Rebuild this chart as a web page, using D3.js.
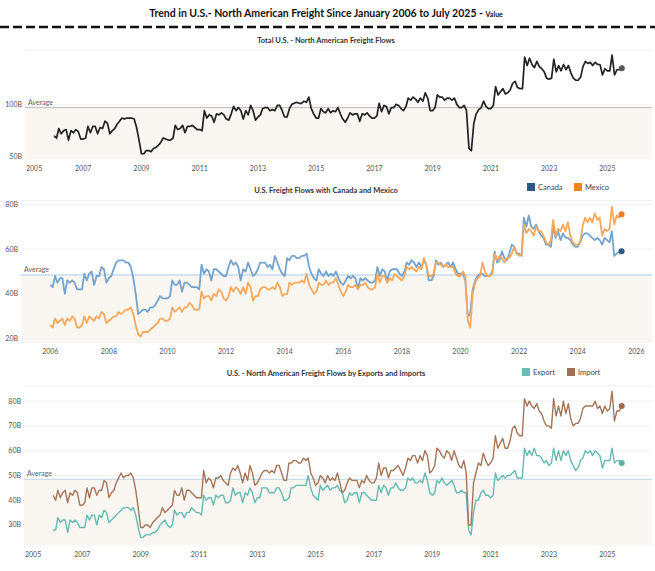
<!DOCTYPE html>
<html>
<head>
<meta charset="utf-8">
<script src="https://cdn.jsdelivr.net/npm/d3@7"></script>
<style>
  body { margin: 0; background: #fff; }
  svg { font-family: Lato, "Open Sans", sans-serif; }
</style>
</head>
<body>
<svg width="655" height="571"></svg>
<script>
// monthly values in billions of USD, Jan 2006 .. Jul 2025 (one row per year)
const canada = [
  44,43,48,45,47,47,40,46,45,46,45,42,
  42,42,49,46,49,50,44,48,48,52,51,45,
  47,48,51,54,55,55,55,54,54,52,47,40,
  31,32,33,33,32,34,34,35,37,39,38,38,
  38,39,46,44,44,46,41,45,45,44,43,43,
  43,42,53,49,51,50,46,51,51,50,49,48,
  48,52,55,53,54,52,46,51,50,54,51,48,
  49,51,54,54,54,52,53,51,57,54,51,49,
  48,56,55,57,57,56,56,57,57,58,52,49,
  47,46,51,49,48,50,48,49,48,50,47,45,
  44,46,48,47,48,47,42,47,46,47,46,45,
  45,46,52,48,51,50,46,50,51,51,51,49,
  48,50,54,53,55,54,52,54,52,55,53,46,
  46,48,55,53,54,52,53,54,52,54,51,49,
  49,49,46,30,31,42,46,48,49,49,48,48,
  48,50,59,54,55,59,56,55,58,62,61,58,
  58,57,74,70,75,70,69,71,68,66,65,62,
  62,61,70,65,68,64,67,65,65,64,62,61,
  61,63,66,67,67,66,65,64,65,64,62,65,
  64,63,68,57,58,59,59
];
const mexico = [
  26,25,29,27,28,29,26,29,28,30,29,25,
  25,26,30,27,30,29,28,30,29,32,31,27,
  28,29,30,30,32,31,32,33,33,34,31,26,
  22,21,23,23,23,24,25,26,27,29,29,28,
  28,29,34,32,33,34,32,34,34,36,35,33,
  33,33,41,38,39,39,37,40,39,42,41,38,
  37,39,43,41,43,42,40,43,40,45,43,37,
  39,39,42,43,43,42,42,43,42,45,43,39,
  40,40,45,44,45,45,45,46,45,49,44,42,
  40,41,45,44,44,46,44,45,45,47,44,41,
  39,41,44,43,43,44,42,44,44,45,43,42,
  42,43,49,45,48,48,45,47,46,49,48,47,
  46,48,52,51,52,51,50,52,51,56,53,48,
  48,49,54,54,53,52,53,52,52,52,49,48,
  48,50,48,28,25,40,45,47,48,54,50,48,
  48,49,58,55,57,56,54,56,56,58,61,58,
  57,58,71,67,69,68,66,70,68,68,66,63,
  62,64,73,66,69,68,71,68,72,66,63,62,
  62,63,70,74,72,74,72,76,73,74,66,69,
  68,69,79,71,75,74,75.5
];
const exports = [
  28,28,33,31,32,32,27,32,31,32,31,29,
  29,29,34,32,34,34,30,34,33,36,35,31,
  32,33,34,35,36,37,37,37,36,37,34,29,
  25,25,26,26,26,27,27,28,30,31,32,30,
  29,30,36,34,35,35,33,35,35,37,36,35,
  35,34,42,40,41,41,38,42,41,42,42,39,
  39,40,45,42,43,43,39,43,42,45,43,39,
  41,41,45,45,45,43,43,43,45,45,43,40,
  40,41,45,45,46,46,46,46,46,50,45,42,
  41,40,46,44,45,46,44,45,45,46,44,43,
  39,40,43,42,43,43,39,43,43,42,41,40,
  40,40,46,43,46,45,42,45,45,47,45,44,
  44,45,49,48,49,47,47,48,47,51,48,43,
  42,43,48,47,49,47,46,47,48,46,43,43,
  44,43,43,28,26,35,40,40,43,44,42,42,
  41,42,51,48,49,50,49,50,50,51,52,49,
  49,49,61,58,60,58,61,58,58,57,55,56,
  54,55,61,56,60,56,60,58,60,56,54,52,
  53,56,57,60,59,60,58,60,59,58,53,56,
  56,56,61,55,56,56,55
];
const imports = [
  42,40,44,41,43,44,39,43,42,44,43,38,
  38,39,45,41,45,45,42,44,44,48,47,41,
  43,44,47,49,51,49,50,50,51,49,44,37,
  29,29,30,30,29,31,32,33,34,37,35,36,
  37,38,44,42,42,45,40,44,44,43,42,41,
  41,41,52,47,49,48,45,49,49,50,48,47,
  46,51,53,52,54,51,47,51,48,54,51,46,
  47,49,51,52,52,51,52,51,54,54,51,48,
  48,55,55,56,56,55,55,57,56,57,51,49,
  46,47,50,49,47,50,48,49,48,51,47,43,
  44,47,49,48,48,48,45,48,47,50,48,47,
  47,49,55,50,53,53,49,52,52,53,54,52,
  50,53,57,56,58,58,55,58,56,60,58,51,
  52,54,61,60,58,57,60,59,56,60,57,54,
  53,56,51,30,30,47,51,55,54,59,56,54,
  55,57,66,61,63,65,61,61,64,69,70,67,
  66,66,81,78,80,78,77,79,76,75,72,70,
  70,69,81,74,78,74,80,75,79,73,70,71,
  71,73,77,78,78,78,78,80,77,78,75,78,
  76,77,84,72,76,76,78
];
// total flow = Canada + Mexico
const total = canada.map((v, i) => v + mexico[i]);

const months = d3.timeMonths(new Date(2006, 0, 1), new Date(2025, 7, 1));

const yTicks1 = [50, 100];
const yTicks2 = [20, 40, 60, 80];
const yTicks3 = [30, 40, 50, 60, 70, 80];
const xYearsOdd = [2005, 2007, 2009, 2011, 2013, 2015, 2017, 2019, 2021, 2023, 2025];
const xYearsEven = [2006, 2008, 2010, 2012, 2014, 2016, 2018, 2020, 2022, 2024, 2026];

const W = 655;
const RIGHT = 652;
const svg = d3.select('svg');

// main title
const title = svg.append('text')
  .attr('x', 326).attr('y', 17)
  .attr('text-anchor', 'middle')
  .style('font-weight', 'bold')
  .style('font-size', '10.5px')
  .attr('fill', '#111');
title.append('tspan').text('Trend in U.S.- North American Freight Since January 2006 to July 2025 - ');
title.append('tspan').text('Value').style('font-size', '7px');

svg.append('line')
  .attr('x1', 0).attr('x2', W).attr('y1', 27).attr('y2', 27)
  .attr('stroke', '#111').attr('stroke-width', 2.5)
  .attr('stroke-dasharray', '9,4');

function panel(o) {
  const g = svg.append('g');
  const x = d3.scaleTime()
    .domain([new Date(2005, 0, 1), new Date(2026, 6, 15)])
    .range([o.left, RIGHT]);
  const y = d3.scaleLinear().domain(o.yDomain).range([o.bottom, o.top]);

  g.append('text')
    .attr('x', 326).attr('y', o.titleY)
    .attr('text-anchor', 'middle')
    .style('font-size', '7.5px').style('font-weight', 'bold')
    .attr('fill', '#333')
    .text(o.title);

  // faint plot top line + gridlines
  g.append('line').attr('x1', o.left).attr('x2', RIGHT)
    .attr('y1', o.top).attr('y2', o.top).attr('stroke', '#eeeeee');
  g.selectAll('.grid').data(o.yTicks).enter().append('line')
    .attr('x1', o.left).attr('x2', RIGHT)
    .attr('y1', d => y(d)).attr('y2', d => y(d))
    .attr('stroke', '#f1f1f1');

  // average reference
  const avg = d3.mean(o.series.flatMap(s => s.values));
  g.append('rect')
    .attr('x', o.left).attr('width', RIGHT - o.left)
    .attr('y', y(avg)).attr('height', o.bottom - y(avg))
    .attr('fill', '#faf6f2');
  g.append('line').attr('x1', o.left).attr('x2', RIGHT)
    .attr('y1', y(avg)).attr('y2', y(avg))
    .attr('stroke', o.avgColor).attr('stroke-width', o.avgWidth);
  g.append('text')
    .attr('x', o.left + 3).attr('y', y(avg) - 3)
    .style('font-size', '7px').attr('fill', '#666')
    .text('Average');

  // y labels
  g.selectAll('.ylab').data(o.yTicks).enter().append('text')
    .attr('x', o.left - 3).attr('y', d => y(d)).attr('dy', '0.35em')
    .attr('text-anchor', 'end')
    .style('font-size', '7px').attr('fill', '#555')
    .text(d => d + 'B');

  // x labels
  g.selectAll('.xlab').data(o.xYears).enter().append('text')
    .attr('x', d => {
      const px = x(new Date(d, 0, 1));
      return px - 8 < o.left ? o.left + 1 : px;
    })
    .attr('text-anchor', d => x(new Date(d, 0, 1)) - 8 < o.left ? 'start' : 'middle')
    .attr('y', o.xLabelY)
    .style('font-size', '7px').attr('fill', '#555')
    .text(d => d);

  // series
  o.series.forEach(s => {
    const line = d3.line()
      .x((d, i) => x(months[i]))
      .y(d => y(d));
    g.append('path')
      .datum(s.values)
      .attr('fill', 'none')
      .attr('stroke', s.color)
      .attr('stroke-width', s.width)
      .attr('stroke-linejoin', 'round')
      .attr('d', line);
    const last = s.values.length - 1;
    g.append('circle')
      .attr('cx', x(months[last]))
      .attr('cy', y(s.values[last]))
      .attr('r', 3)
      .attr('fill', s.dot);
  });

  // legend
  if (o.legend) {
    o.legend.forEach(l => {
      g.append('rect').attr('x', l.x).attr('y', o.legendY - 4)
        .attr('width', 8).attr('height', 8).attr('fill', l.color);
      g.append('text').attr('x', l.x + 11).attr('y', o.legendY).attr('dy', '0.35em')
        .style('font-size', '7.5px').attr('fill', '#444')
        .text(l.name);
    });
  }
}

panel({
  title: 'Total U.S. - North American Freight Flows', titleY: 43,
  left: 25, top: 50, bottom: 159.5, yDomain: [47.5, 151.8],
  yTicks: yTicks1, xYears: xYearsOdd, xLabelY: 171,
  avgColor: '#c9c9c9', avgWidth: 1.5,
  series: [{ values: total, color: '#222', width: 1.7, dot: '#555' }]
});

panel({
  title: 'U.S. Freight Flows with Canada and Mexico', titleY: 193,
  left: 21, top: 200.7, bottom: 343.3, yDomain: [17.95, 81.6],
  yTicks: yTicks2, xYears: xYearsEven, xLabelY: 354,
  avgColor: '#d3e3ef', avgWidth: 2,
  series: [
    { values: canada, color: '#74a3cd', width: 1.8, dot: '#2a5783' },
    { values: mexico, color: '#f9a85c', width: 1.8, dot: '#f47d20' }
  ],
  legendY: 187,
  legend: [
    { name: 'Canada', color: '#2a5783', x: 527 },
    { name: 'Mexico', color: '#f58518', x: 574 }
  ]
});

panel({
  title: 'U.S. - North American Freight Flows by Exports and Imports', titleY: 376,
  left: 24, top: 386, bottom: 545.7, yDomain: [21.65, 86.1],
  yTicks: yTicks3, xYears: xYearsOdd, xLabelY: 557,
  avgColor: '#c9dde8', avgWidth: 1.2,
  series: [
    { values: exports, color: '#66bab1', width: 1.4, dot: '#5fb0a8' },
    { values: imports, color: '#a47559', width: 1.4, dot: '#9c6b50' }
  ],
  legendY: 372,
  legend: [
    { name: 'Export', color: '#72bbb4', x: 522 },
    { name: 'Import', color: '#a06f57', x: 567 }
  ]
});
</script>
</body>
</html>
